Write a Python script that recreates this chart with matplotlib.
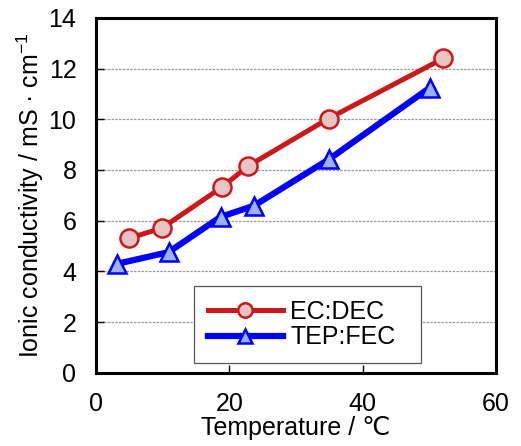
import matplotlib
matplotlib.use('Agg')
import matplotlib.pyplot as plt

# data
temp_ecdec = [4.9, 9.9, 18.9, 22.8, 34.9, 52.1]
cond_ecdec = [5.30, 5.71, 7.32, 8.15, 10.03, 12.40]
temp_tepfec = [3.2, 10.9, 18.7, 23.7, 35.0, 50.1]
cond_tepfec = [4.30, 4.76, 6.15, 6.59, 8.43, 11.25]

plt.rcParams['font.family'] = ['Liberation Sans', 'DejaVu Sans']
plt.rcParams['mathtext.fontset'] = 'custom'
plt.rcParams['mathtext.rm'] = 'Liberation Sans'

fig = plt.figure(figsize=(5.21, 4.46), dpi=100)
ax = fig.add_axes([0.184, 0.164, 0.768, 0.796])

ax.plot(temp_ecdec, cond_ecdec, color='#cc1818', lw=3.6, marker='o', ms=13,
        mfc='#e8c4c4', mec='#cc1818', mew=1.8, label='EC:DEC', zorder=3)
ax.plot(temp_tepfec, cond_tepfec, color='#0000ff', lw=4.5, marker='^', ms=13,
        mfc='#99b3ff', mec='#0000ff', mew=1.8, label='TEP:FEC', zorder=3)

ax.set_xlim(0, 60)
ax.set_ylim(0, 14)
ax.set_xticks([0, 20, 40, 60])
ax.set_yticks(range(0, 15, 2))
for y in range(2, 14, 2):
    ax.axhline(y, color='#999999', lw=0.9, ls=(0, (2, 1)), zorder=1)

ax.tick_params(direction='in', length=6, width=1, labelsize=18,
               top=False, right=False)
ax.tick_params(axis='x', pad=14)
ax.tick_params(axis='y', pad=14)
for s in ax.spines.values():
    s.set_linewidth(2.2)

ax.set_xlabel('Temperature / ℃', fontsize=18, labelpad=0)
ax.set_ylabel('Ionic conductivity / mS · cm$^{-1}$', fontsize=18, labelpad=2)

leg = ax.legend(loc='center', bbox_to_anchor=(0.245, 0.037, 0.568, 0.197),
                mode='expand', borderaxespad=0,
                fontsize=18, fancybox=False, edgecolor='#555555',
                framealpha=1, handlelength=3.0, borderpad=0.55,
                labelspacing=0.05, handletextpad=0.3, markerscale=0.8)
leg.get_frame().set_linewidth(0.9)

plt.savefig('out.png', dpi=100)
